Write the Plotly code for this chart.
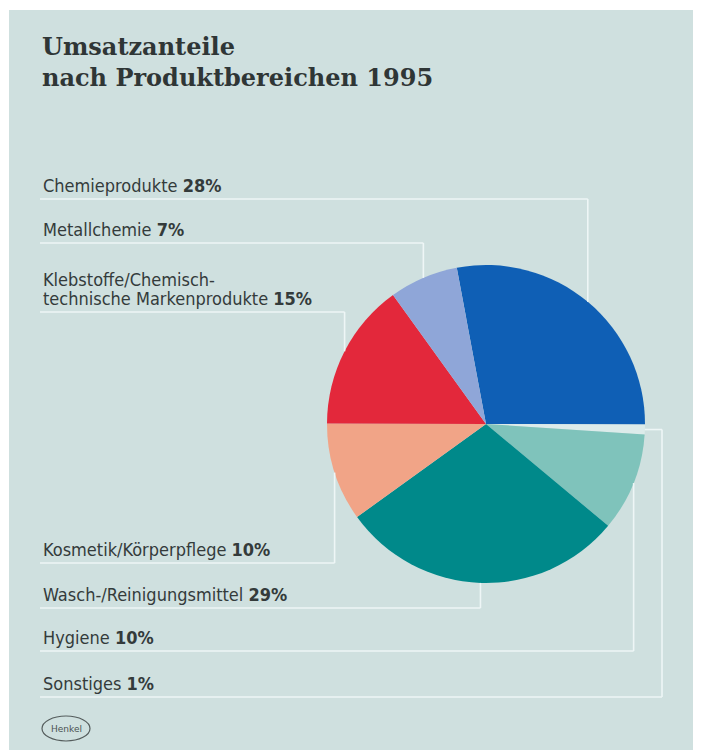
import math
import plotly.graph_objects as go

# ---- data -------------------------------------------------------------
segments = [
    "Chemieprodukte",
    "Sonstiges",
    "Hygiene",
    "Wasch-/Reinigungsmittel",
    "Kosmetik/Körperpflege",
    "Klebstoffe/Chemisch-<br>technische Markenprodukte",
    "Metallchemie",
]
shares = [28, 1, 10, 29, 10, 15, 7]
slice_colors = ["#0f5fb5", "#dcebea", "#7fc3bb", "#00898a", "#f1a487",
                "#e3283b", "#8fa6d8"]

# label rows, listed top to bottom (index into segments)
label_order = [0, 6, 5, 4, 3, 2, 1]
row_lines = [199, 243, 312, 563, 608, 651, 697]   # underline y (px from top)

# ---- layout constants --------------------------------------------------
W, H = 702, 750
CX, CY, R = 486, 424, 159          # pie centre / radius in px
ROTATION = -10.6                   # start angle of first slice (deg from 12 o'clock)
LEFT = 40
PANEL = "#cfe0df"
LINE = "#eef6f6"
TEXT = "#343b3b"
LABEL_FONT = dict(family="DejaVu Sans Condensed, Open Sans", size=18, color=TEXT)


def px(x):
    return x / W


def py(y):
    return 1 - y / H


fig = go.Figure()
fig.add_trace(go.Pie(
    labels=[s.replace("<br>", "") for s in segments],
    values=shares,
    marker=dict(colors=slice_colors, line=dict(width=0)),
    sort=False,
    direction="clockwise",
    rotation=ROTATION,
    textinfo="none",
    hoverinfo="skip",
    showlegend=False,
    domain=dict(x=[px(CX - R), px(CX + R)], y=[py(CY + R), py(CY - R)]),
))

shapes = [
    # background panel
    dict(type="rect", xref="paper", yref="paper", x0=px(9), x1=px(693),
         y0=py(750), y1=py(10), fillcolor=PANEL, line=dict(width=0), layer="below"),
]
annotations = []

# slice mid angles (deg clockwise from top)
total = sum(shares)
mids = []
acc = ROTATION
for v in shares:
    span = 360 * v / total
    mids.append(acc + span / 2)
    acc += span

for row, idx in enumerate(label_order):
    y_line = row_lines[row]
    a = math.radians(mids[idx])
    ex, ey = CX + R * math.sin(a), CY - R * math.cos(a)
    col = ex
    if ex > CX + R - 3:               # slice on the rim: step out to the side
        col = CX + R + 17
    seg = dict(type="line", xref="paper", yref="paper",
               line=dict(color=LINE, width=1.6), layer="above")
    shapes.append(dict(seg, x0=px(LEFT), x1=px(col), y0=py(y_line), y1=py(y_line)))
    shapes.append(dict(seg, x0=px(col), x1=px(col), y0=py(y_line), y1=py(ey)))
    if col != ex:
        shapes.append(dict(seg, x0=px(col), x1=px(ex), y0=py(ey), y1=py(ey)))

    # label text, one annotation per line so the line spacing stays tight
    parts = segments[idx].split("<br>")
    parts[-1] = f"{parts[-1]} <b>{shares[idx]}%</b>"
    for k, part in enumerate(parts):
        offset = 13.5 + 19 * (len(parts) - 1 - k)
        annotations.append(dict(
            text=part, xref="paper", yref="paper",
            x=px(41), y=py(y_line - offset),
            xanchor="left", yanchor="middle", align="left", showarrow=False,
            font=LABEL_FONT,
        ))

# title
annotations.append(dict(
    text="<b>Umsatzanteile</b><br><b>nach Produktbereichen 1995</b>",
    xref="paper", yref="paper", x=px(40), y=py(30),
    xanchor="left", yanchor="top", align="left", showarrow=False,
    font=dict(family="DejaVu Serif", size=24, color="#2f3636"),
))

# Henkel logo
shapes.append(dict(type="circle", xref="paper", yref="paper",
                   x0=px(42), x1=px(90), y0=py(741), y1=py(716),
                   line=dict(color="#555d5d", width=1.2)))
annotations.append(dict(
    text="Henkel", xref="paper", yref="paper", x=px(66), y=py(728.5),
    xanchor="center", yanchor="middle", showarrow=False,
    font=dict(family="DejaVu Sans", size=9, color="#4a5252"),
))

fig.update_layout(
    width=W, height=H,
    margin=dict(l=0, r=0, t=0, b=0),
    paper_bgcolor="white",
    plot_bgcolor="white",
    shapes=shapes,
    annotations=annotations,
)

fig.write_html("out.html")
